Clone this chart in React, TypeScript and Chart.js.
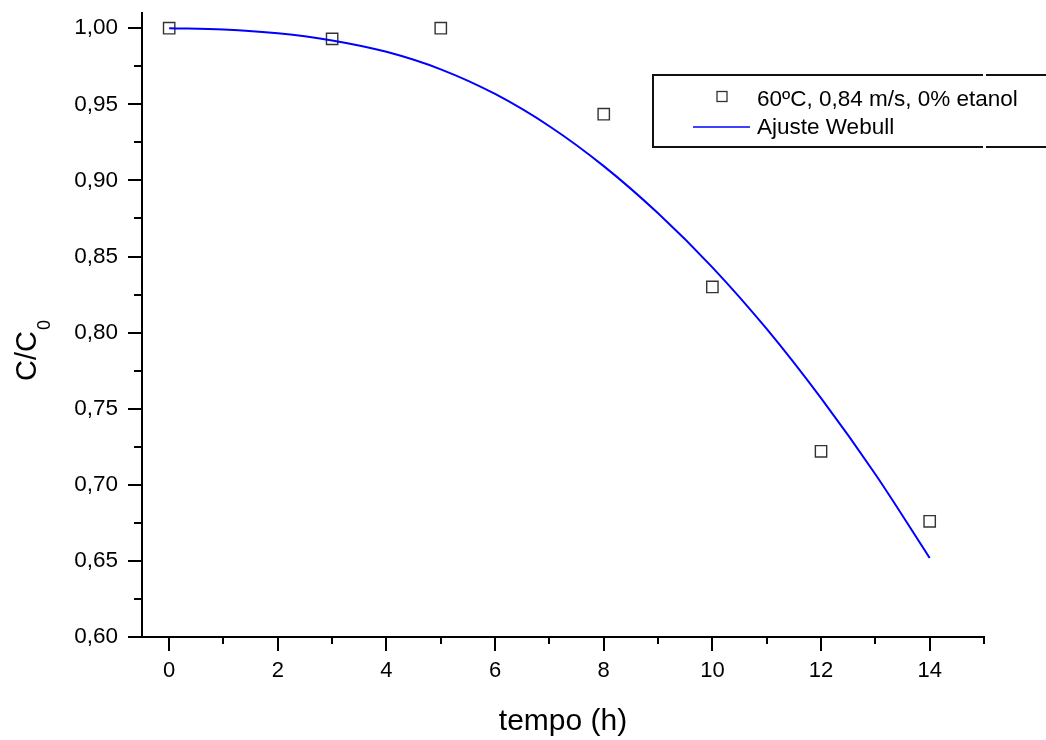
import React, { useEffect, useRef } from "react";
import { Chart, registerables } from "chart.js";

Chart.register(...registerables);

// ---- data ----
const timeHours = [0, 3, 5, 8, 10, 12, 14];
const concRatio = [1.0, 0.993, 1.0, 0.9435, 0.83, 0.722, 0.676];

const fitTime = [0, 1, 2, 3, 4, 5, 6, 7, 8, 9, 10, 11, 12, 13, 14];
const fitRatio = [1.0, 0.9992, 0.9967, 0.992, 0.9845, 0.973, 0.9568, 0.9356, 0.9094, 0.8784, 0.8429, 0.8024, 0.7569, 0.7069, 0.6519];

const xTickValues = [0, 1, 2, 3, 4, 5, 6, 7, 8, 9, 10, 11, 12, 13, 14, 15];
const xLabelValues = [0, 2, 4, 6, 8, 10, 12, 14];
const yTickValues = [0.6, 0.625, 0.65, 0.675, 0.7, 0.725, 0.75, 0.775, 0.8, 0.825, 0.85, 0.875, 0.9, 0.925, 0.95, 0.975, 1.0];
const yLabelValues = [0.6, 0.65, 0.7, 0.75, 0.8, 0.85, 0.9, 0.95, 1.0];

const seriesLabels = ["60ºC, 0,84 m/s, 0% etanol", "Ajuste Webull"];
const xTitle = "tempo (h)";
const yTitleMain = "C/C";
const yTitleSub = "0";

const FONT = "'Liberation Sans', Arial, Helvetica, sans-serif";

const isIn = (arr: number[], v: number) => arr.some((a) => Math.abs(a - v) < 1e-6);

const decorPlugin = {
  id: "originDecor",
  afterDraw(chart: any) {
    const ctx = chart.ctx as CanvasRenderingContext2D;
    const xs = chart.scales.x;
    const ys = chart.scales.y;
    const area = chart.chartArea;
    ctx.save();
    // tick marks (major / minor)
    ctx.strokeStyle = "#000";
    ctx.lineWidth = 2;
    ctx.beginPath();
    xTickValues.forEach((v) => {
      const px = Math.round(xs.getPixelForValue(v));
      const len = isIn(xLabelValues, v) ? 14 : 7;
      ctx.moveTo(px, area.bottom);
      ctx.lineTo(px, area.bottom + len);
    });
    yTickValues.forEach((v) => {
      const py = Math.round(ys.getPixelForValue(v));
      const len = isIn(yLabelValues, v) ? 14 : 8;
      ctx.moveTo(area.left, py);
      ctx.lineTo(area.left - len, py);
    });
    ctx.stroke();

    // y title with subscript
    ctx.fillStyle = "#000";
    ctx.translate(36, 381);
    ctx.rotate(-Math.PI / 2);
    ctx.textAlign = "left";
    ctx.textBaseline = "alphabetic";
    ctx.font = `29px ${FONT}`;
    ctx.fillText(yTitleMain, 0, 0);
    const w = ctx.measureText(yTitleMain).width;
    ctx.font = `18px ${FONT}`;
    ctx.fillText(yTitleSub, w + 1, 14);
    ctx.restore();

    // legend
    ctx.save();
    const L = 653, T = 75, B = 147;
    ctx.strokeStyle = "#111";
    ctx.lineWidth = 2;
    ctx.beginPath();
    ctx.moveTo(1050, T);
    ctx.lineTo(986, T);
    ctx.moveTo(983, T);
    ctx.lineTo(L, T);
    ctx.lineTo(L, B);
    ctx.lineTo(983, B);
    ctx.moveTo(986, B);
    ctx.lineTo(1050, B);
    ctx.stroke();

    ctx.strokeStyle = "#333";
    ctx.lineWidth = 1.3;
    ctx.strokeRect(717, 91.5, 10, 10);

    ctx.strokeStyle = "#0000ff";
    ctx.lineWidth = 1.5;
    ctx.beginPath();
    ctx.moveTo(693, 127);
    ctx.lineTo(750, 127);
    ctx.stroke();

    ctx.fillStyle = "#000";
    ctx.font = `22.5px ${FONT}`;
    ctx.textAlign = "left";
    ctx.textBaseline = "alphabetic";
    ctx.fillText(seriesLabels[0], 757, 106);
    ctx.fillText(seriesLabels[1], 757, 134);
    ctx.restore();
  },
};

export default function App() {
  const ref = useRef<HTMLCanvasElement>(null);

  useEffect(() => {
    const canvas = ref.current!;
    const chart = new Chart(canvas, {
      type: "scatter",
      data: {
        datasets: [
          {
            label: seriesLabels[0],
            data: timeHours.map((t, i) => ({ x: t, y: concRatio[i] })),
            pointStyle: "rect",
            pointRadius: 8,
            pointHoverRadius: 8,
            pointBorderColor: "#333",
            pointBackgroundColor: "rgba(0,0,0,0)",
            pointBorderWidth: 1.4,
            showLine: false,
            order: 2,
          },
          {
            label: seriesLabels[1],
            data: fitTime.map((t, i) => ({ x: t, y: fitRatio[i] })),
            showLine: true,
            borderColor: "#0000ff",
            borderWidth: 2,
            pointRadius: 0,
            cubicInterpolationMode: "monotone",
            fill: false,
            order: 1,
          },
        ],
      },
      options: {
        responsive: false,
        animation: false,
        layout: { padding: { top: 13, right: 62, left: 0, bottom: 0 } },
        plugins: { legend: { display: false }, tooltip: { enabled: false } },
        scales: {
          x: {
            type: "linear",
            min: -0.5,
            max: 15,
            afterBuildTicks: (s: any) => {
              s.ticks = xTickValues.map((v) => ({ value: v }));
            },
            afterFit: (s: any) => {
              s.height = 103;
              s.paddingLeft = 0;
              s.paddingRight = 0;
            },
            grid: { display: false, drawTicks: false },
            border: { display: true, color: "#000", width: 2 },
            ticks: {
              padding: 21,
              color: "#000",
              autoSkip: false,
              maxRotation: 0,
              font: { family: FONT, size: 22 },
              callback: (v: any) => (isIn(xLabelValues, Number(v)) ? String(v) : ""),
            },
            title: {
              display: true,
              text: xTitle,
              color: "#000",
              font: { family: FONT, size: 30 },
              padding: { top: 0, bottom: 0 },
            },
          },
          y: {
            type: "linear",
            min: 0.6,
            max: 1.01,
            afterBuildTicks: (s: any) => {
              s.ticks = yTickValues.map((v) => ({ value: v }));
            },
            afterFit: (s: any) => {
              s.width = 142;
              s.paddingTop = 0;
              s.paddingBottom = 0;
            },
            grid: { display: false, drawTicks: false },
            border: { display: true, color: "#000", width: 2 },
            ticks: {
              padding: 24,
              color: "#000",
              autoSkip: false,
              font: { family: FONT, size: 22.5 },
              callback: (v: any) =>
                isIn(yLabelValues, Number(v)) ? Number(v).toFixed(2).replace(".", ",") : "",
            },
          },
        },
      },
      plugins: [decorPlugin],
    } as any);
    return () => chart.destroy();
  }, []);

  return (
    <div style={{ position: "fixed", left: 0, top: 0, width: 1046, height: 740, background: "#fff" }}>
      <canvas ref={ref} width={1046} height={740} style={{ display: "block" }} />
    </div>
  );
}
